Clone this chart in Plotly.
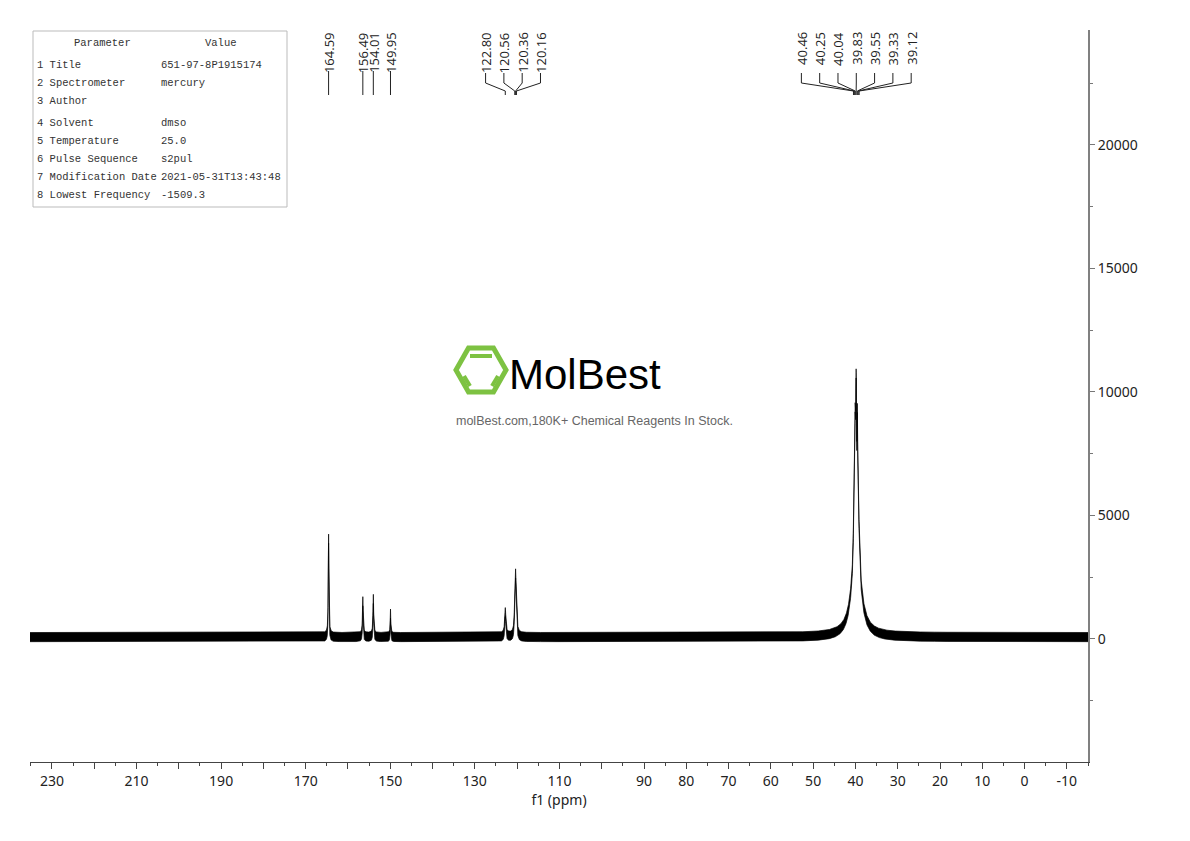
import numpy as np
import plotly.graph_objects as go

# ---------------- data ----------------
peak_ppm = [164.59, 156.49, 154.01, 149.95, 122.80, 120.56, 120.36, 120.16,
            40.46, 40.25, 40.04, 39.83, 39.55, 39.33, 39.12]
peak_height = [4000, 1450, 1550, 950, 1000, 1100, 2000, 1100,
               650, 2100, 4200, 5100, 4200, 2100, 650]
peak_width = [0.08, 0.09, 0.09, 0.07, 0.15, 0.12, 0.12, 0.12,
              0.10, 0.10, 0.10, 0.10, 0.10, 0.10, 0.10]
base_ppm = [39.8]          # broad solvent base
base_height = [4100]
base_width = [1.1]
noise_low = -110
noise_high = 260

label_groups = [[164.59], [156.49], [154.01], [149.95],
                [122.80, 120.56, 120.36, 120.16],
                [40.46, 40.25, 40.04, 39.83, 39.55, 39.33, 39.12]]

xtick_vals = list(range(230, -11, -10))
xtick_text = ["230", "", "210", "", "190", "", "170", "", "150", "", "130", "", "110", "",
              "90", "80", "70", "60", "50", "40", "30", "20", "10", "0", "-10"]

params = ["1 Title", "2 Spectrometer", "3 Author", "4 Solvent", "5 Temperature",
          "6 Pulse Sequence", "7 Modification Date", "8 Lowest Frequency"]
values = ["651-97-8P1915174", "mercury", "", "dmso", "25.0", "s2pul",
          "2021-05-31T13:43:48", "-1509.3"]

# ---------------- build spectrum ----------------
x = np.linspace(235.2, -15, 14000)
y = np.zeros_like(x)
for c, h, w in zip(peak_ppm + base_ppm, peak_height + base_height, peak_width + base_width):
    y += h / (1 + ((x - c) / w) ** 2)

OFF = 8  # page offset of the figure
X0, X1 = 235.2, -15.0
L, R, T, B = 30, 1088, 30, 762   # plot box in reference pixel coords
W, H = 1190, 841

def pxp(px):
    return (px - L) / (R - L)

def pyp(py):
    return 1 - (py - T) / (B - T)

def ppm_to_px(v):
    return L + (X0 - v) / (X0 - X1) * (R - L)

fig = go.Figure()
fig.add_trace(go.Scatter(x=x, y=y + noise_low, mode="lines",
                         line=dict(color="black", width=0.7), hoverinfo="skip"))
fig.add_trace(go.Scatter(x=x, y=y + noise_high, mode="lines", fill="tonexty",
                         fillcolor="black", line=dict(color="black", width=0.7),
                         hoverinfo="skip"))

shapes = []
annotations = []

# peak labels
spacing = 18.3
for grp in label_groups:
    centers = [ppm_to_px(p) for p in grp]
    cmean = sum(centers) / len(centers)
    n = len(grp)
    for i, p in enumerate(grp):
        lx = cmean + (i - (n - 1) / 2) * spacing
        pkx = ppm_to_px(p)
        annotations.append(dict(x=pxp(lx), y=pyp(30), xref="paper", yref="paper",
                                text=f"{p:.2f}", textangle=-90, showarrow=False,
                                xanchor="center", yanchor="top",
                                font=dict(family="Open Sans", size=13, color="#222")))
        if n == 1:
            shapes.append(dict(type="line", xref="paper", yref="paper",
                               x0=pxp(lx), x1=pxp(lx), y0=pyp(71), y1=pyp(95),
                               line=dict(color="#222", width=1)))
        else:
            pts = [(lx, 73), (lx, 83), (pkx, 91), (pkx, 95)]
            path = "M " + " L ".join(f"{pxp(a)},{pyp(b)}" for a, b in pts)
            shapes.append(dict(type="path", xref="paper", yref="paper", path=path,
                               line=dict(color="#222", width=1)))

# parameter table
shapes.append(dict(type="rect", xref="paper", yref="paper",
                   x0=pxp(33), x1=pxp(287), y0=pyp(31), y1=pyp(207),
                   line=dict(color="#bbbbbb", width=1)))
tfont = dict(family="Liberation Mono", size=10.5, color="#333")
annotations.append(dict(x=pxp(102), y=pyp(43), xref="paper", yref="paper", text="Parameter",
                        showarrow=False, xanchor="center", yanchor="middle", font=tfont))
annotations.append(dict(x=pxp(221), y=pyp(43), xref="paper", yref="paper", text="Value",
                        showarrow=False, xanchor="center", yanchor="middle", font=tfont))
row_y = [65, 83, 101, 123, 141, 159, 177, 195]
for ry, p, v in zip(row_y, params, values):
    annotations.append(dict(x=pxp(35), y=pyp(ry), xref="paper", yref="paper", text=p,
                            showarrow=False, xanchor="left", yanchor="middle", font=tfont))
    if v:
        annotations.append(dict(x=pxp(159), y=pyp(ry), xref="paper", yref="paper", text=v,
                                showarrow=False, xanchor="left", yanchor="middle", font=tfont))

# watermark
hx, hy, hw, hh = 481, 370, 25, 22
hexpts = [(hx - hw, hy), (hx - hw / 2, hy - hh), (hx + hw / 2, hy - hh),
          (hx + hw, hy), (hx + hw / 2, hy + hh), (hx - hw / 2, hy + hh)]
shapes.append(dict(type="path", xref="paper", yref="paper",
                   path="M " + " L ".join(f"{pxp(a)},{pyp(b)}" for a, b in hexpts) + " Z",
                   line=dict(color="#7dc242", width=5)))
for (a1, b1, a2, b2) in [(470, 356, 492, 356), (464, 376, 470, 386), (492, 386, 498, 376)]:
    shapes.append(dict(type="line", xref="paper", yref="paper",
                       x0=pxp(a1), y0=pyp(b1), x1=pxp(a2), y1=pyp(b2),
                       line=dict(color="#7dc242", width=4)))
annotations.append(dict(x=pxp(585), y=pyp(374), xref="paper", yref="paper", text="MolBest",
                        showarrow=False, xanchor="center", yanchor="middle",
                        font=dict(family="Liberation Sans", size=42, color="black")))
annotations.append(dict(x=pxp(594), y=pyp(421), xref="paper", yref="paper",
                        text="molBest.com,180K+ Chemical Reagents In Stock.",
                        showarrow=False, xanchor="center", yanchor="middle",
                        font=dict(family="Liberation Sans", size=12.5, color="#666")))

fig.update_layout(
    width=W, height=H, plot_bgcolor="white", paper_bgcolor="white",
    margin=dict(l=L - OFF, r=W - R + OFF, t=T - OFF, b=H - B + OFF),
    showlegend=False, shapes=shapes, annotations=annotations,
    xaxis=dict(range=[X0, X1], tickvals=xtick_vals, ticktext=xtick_text,
               ticks="outside", ticklen=6, tickcolor="#444", showgrid=False, zeroline=False,
               showline=True, linecolor="#444", linewidth=1,
               minor=dict(dtick=5, tick0=0, ticks="outside", ticklen=3, tickcolor="#444"),
               tickfont=dict(family="Noto Sans", size=14, color="#222"),
               title=dict(text="f1 (ppm)", standoff=2,
                          font=dict(family="Noto Sans", size=14, color="#222"))),
    yaxis=dict(range=[-4980, 24650], side="right", dtick=5000, tick0=0, tickformat="d",
               ticks="outside", ticklen=5, tickcolor="#777", showgrid=False, zeroline=False,
               showline=True, linecolor="#808080", linewidth=2,
               minor=dict(dtick=2500, ticks="outside", ticklen=3, tickcolor="#777"),
               tickfont=dict(family="Noto Sans", size=14, color="#222")),
)
fig.write_html("out.html")
